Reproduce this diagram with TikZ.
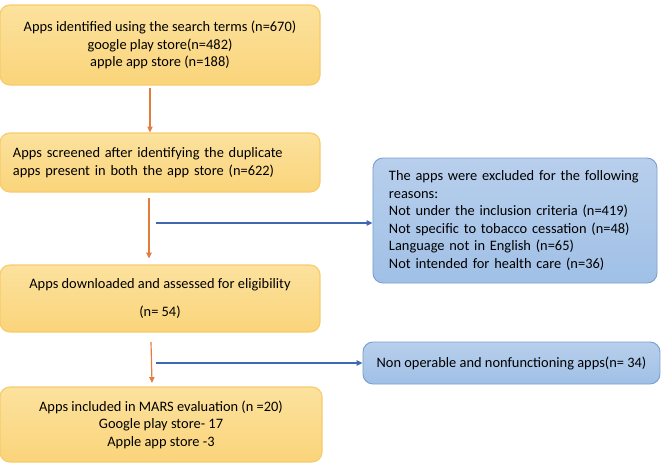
\documentclass[tikz,border=0pt]{standalone}
\usepackage{fontspec}
\setmainfont{Carlito}
\usepackage{xcolor}
\usetikzlibrary{arrows.meta,positioning,calc}
\definecolor{boxorange}{RGB}{250,212,122}
\definecolor{boxorangetop}{RGB}{252,226,158}
\definecolor{lineorange}{RGB}{246,204,108}
\definecolor{boxblue}{RGB}{160,192,230}
\definecolor{boxbluetop}{RGB}{184,207,236}
\definecolor{lineblue}{RGB}{122,160,208}
\definecolor{arroworange}{RGB}{228,124,62}
\definecolor{arrowblue}{RGB}{62,104,178}

\tikzset{
  stagebox/.style={draw=lineorange, line width=1pt, rounded corners=0.3cm,
    top color=boxorangetop, bottom color=boxorange, inner sep=2pt,
    font=\fontsize{12.3}{15}\selectfont, align=center},
  outbox/.style={draw=lineblue, line width=0.8pt, rounded corners=0.3cm,
    top color=boxbluetop, bottom color=boxblue, inner sep=2pt,
    font=\fontsize{12.3}{15}\selectfont},
  flowarrow/.style={-{Triangle[length=5pt,width=4.5pt]}, line width=1pt, arroworange},
  droparrow/.style={-{Triangle[length=5pt,width=4.5pt]}, line width=1pt, arrowblue}
}

\begin{document}
\begin{tikzpicture}[x=0.03cm, y=-0.03cm]
    \useasboundingbox (0,0) rectangle (661,464);

    % Main flow (left column)
    \node[stagebox, minimum width=9.6cm, minimum height=2.4cm] (found) at (160,45)
        {Apps identified using the search terms (n=670)\\ google play store(n=482)\\ apple app store (n=188)};
    \node[stagebox, minimum width=9.6cm, minimum height=1.77cm, align=left,
          text width=8.82cm, inner xsep=0.39cm] (screened) at (160,162.5)
        {Apps screened after identifying the duplicate\\ apps present in both the app store (n=622)};
    \node[stagebox, minimum width=9.6cm, minimum height=2.01cm] (assessed) at (160,298.5)
        {Apps downloaded and assessed for eligibility\\[0.34cm] (n= 54)};
    \node[stagebox, minimum width=9.66cm, minimum height=2.25cm] (included) at (161,424.5)
        {Apps included in MARS evaluation (n =20)\\ Google play store- 17\\ Apple app store -3};

    % Exclusions (right column)
    \node[outbox, minimum width=8.52cm, minimum height=3.75cm, align=left,
          text width=7.56cm, inner xsep=0.48cm] (excluded) at (515,220.5)
        {The apps were excluded for the following\\ reasons:\\
         Not under the inclusion criteria (n=419)\\
         Not specific to tobacco cessation (n=48)\\
         Language not in English (n=65)\\
         Not intended for health care (n=36)};
    \node[outbox, minimum width=8.91cm, minimum height=1.26cm] (broken) at (511.5,363)
        {Non operable and nonfunctioning apps(n= 34)};

    % Vertical arrows
    \draw[flowarrow] ([xshift=-0.3cm, yshift=-2pt]found.south) -- ([xshift=-0.3cm]screened.north);
    \draw[flowarrow] ([xshift=-0.33cm, yshift=-5pt]screened.south) -- ([xshift=-0.33cm, yshift=5pt]assessed.north);
    \draw[flowarrow] ([xshift=-0.27cm, yshift=-8pt]assessed.south) -- ([xshift=-0.27cm, yshift=3pt]included.north);

    % Side branches
    \coordinate (split1) at (156,223);
    \coordinate (split2) at (156,363);
    \draw[droparrow] (split1) -- (split1 -| excluded.west);
    \draw[droparrow] (split2) -- (split2 -| broken.west);
\end{tikzpicture}
\end{document}
